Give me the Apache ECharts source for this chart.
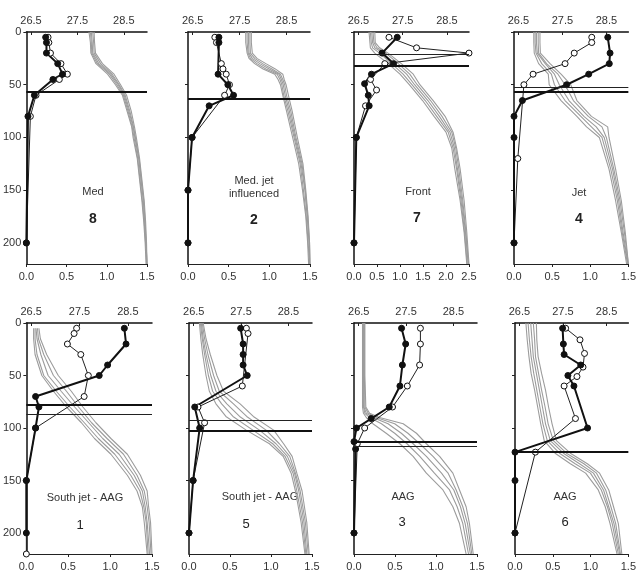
<!DOCTYPE html>
<html>
<head>
<meta charset="utf-8">
<script src="https://cdn.jsdelivr.net/npm/echarts@6/dist/echarts.min.js"></script>
<style>
html, body { margin: 0; padding: 0; background: #fff; }
#chart { width: 639px; height: 585px; }
</style>
</head>
<body>
<div id="chart"></div>
<script>
// top axis (density) ticks, bottom axis ticks, depth ticks
const densityTicks = [26.5, 27.5, 28.5];
const depthTicks = [0, 50, 100, 150, 200];

// panel 1 - Med 8
const depthP1 = [0, 10, 20, 30, 40, 50, 60, 75, 90, 100, 120, 140, 160, 180, 200, 220];
const grayP1 = [
  [27.75, 27.78, 27.79, 27.90, 28.15, 28.32, 28.47, 28.57, 28.67, 28.70, 28.79, 28.84, 28.89, 28.93, 28.96, 28.98],
  [27.78, 27.80, 27.81, 27.93, 28.19, 28.35, 28.49, 28.59, 28.68, 28.72, 28.80, 28.85, 28.90, 28.94, 28.97, 28.99],
  [27.80, 27.82, 27.83, 27.96, 28.22, 28.38, 28.51, 28.61, 28.70, 28.74, 28.82, 28.87, 28.92, 28.95, 28.98, 29.0],
  [27.83, 27.85, 27.86, 28.00, 28.25, 28.40, 28.53, 28.63, 28.71, 28.75, 28.83, 28.88, 28.93, 28.96, 28.98, 29.0],
  [27.86, 27.87, 27.89, 28.04, 28.29, 28.43, 28.56, 28.66, 28.73, 28.77, 28.84, 28.89, 28.94, 28.97, 28.99, 29.0]
];
const blackP1 = [[0.24, 5], [0.25, 10], [0.25, 20], [0.39, 30], [0.45, 40], [0.33, 45], [0.10, 60], [0.02, 80], [0, 200]];
const whiteP1 = [[0.27, 5], [0.28, 10], [0.30, 20], [0.43, 30], [0.51, 40], [0.41, 45], [0.12, 60], [0.05, 80], [0, 200]];
const thickP1 = [57];
const thinP1 = [];

// panel 2 - Med. jet influenced 2
const depthP2 = [0, 10, 20, 25, 30, 35, 40, 45, 50, 60, 75, 100, 125, 150, 175, 200, 220];
const grayP2 = [
  [27.63, 27.63, 27.66, 27.70, 27.82, 28.00, 28.25, 28.32, 28.37, 28.42, 28.50, 28.63, 28.76, 28.84, 28.91, 28.95, 28.97],
  [27.66, 27.66, 27.68, 27.73, 27.87, 28.06, 28.30, 28.36, 28.40, 28.44, 28.53, 28.66, 28.79, 28.86, 28.92, 28.96, 28.99],
  [27.69, 27.69, 27.70, 27.77, 27.93, 28.13, 28.34, 28.39, 28.43, 28.47, 28.56, 28.68, 28.81, 28.89, 28.94, 28.98, 28.99],
  [27.72, 27.72, 27.73, 27.82, 27.99, 28.19, 28.37, 28.42, 28.46, 28.50, 28.59, 28.70, 28.83, 28.90, 28.95, 28.99, 29.0],
  [27.75, 27.75, 27.77, 27.87, 28.06, 28.26, 28.42, 28.45, 28.49, 28.54, 28.62, 28.73, 28.85, 28.91, 28.96, 28.99, 29.0]
];
const blackP2 = [[0.38, 5], [0.38, 10], [0.37, 40], [0.49, 50], [0.56, 60], [0.26, 70], [0.05, 100], [0, 150], [0, 200]];
const whiteP2 = [[0.33, 5], [0.35, 10], [0.41, 30], [0.43, 35], [0.47, 40], [0.51, 50], [0.45, 60], [0.05, 100], [0, 150], [0, 200]];
const thickP2 = [63];
const thinP2 = [];

// panel 3 - Front 7
const depthP3 = [0, 10, 15, 20, 30, 40, 50, 65, 80, 95, 110, 130, 160, 190, 220];
const grayP3 = [
  [26.74, 26.76, 26.77, 26.87, 27.17, 27.44, 27.65, 27.95, 28.21, 28.48, 28.61, 28.68, 28.80, 28.89, 28.95],
  [26.77, 26.79, 26.82, 26.98, 27.25, 27.51, 27.71, 28.01, 28.27, 28.53, 28.64, 28.72, 28.82, 28.90, 28.96],
  [26.80, 26.82, 26.87, 27.06, 27.32, 27.59, 27.77, 28.07, 28.33, 28.57, 28.67, 28.74, 28.84, 28.92, 28.98],
  [26.83, 26.85, 26.92, 27.12, 27.40, 27.66, 27.83, 28.13, 28.39, 28.61, 28.70, 28.77, 28.86, 28.93, 28.99],
  [26.87, 26.88, 26.98, 27.17, 27.47, 27.74, 27.89, 28.19, 28.46, 28.64, 28.72, 28.80, 28.89, 28.95, 29.0]
];
const blackP3 = [[0.94, 5], [0.61, 20], [0.86, 30], [0.38, 40], [0.23, 49], [0.31, 60], [0.33, 70], [0.05, 100], [0, 200]];
const whiteP3 = [[0.76, 5], [1.36, 15], [2.5, 20], [0.67, 30], [0.36, 45], [0.49, 55], [0.25, 70], [0.05, 100], [0, 200]];
const thickP3 = [32];
const thinP3 = [21];

// panel 4 - Jet 4
const depthP4 = [0, 10, 20, 30, 40, 50, 65, 80, 90, 100, 130, 160, 190, 220];
const grayP4 = [
  [26.85, 26.85, 26.86, 26.96, 27.18, 27.20, 27.47, 27.83, 28.05, 28.34, 28.56, 28.71, 28.84, 28.96],
  [26.88, 26.88, 26.90, 27.03, 27.25, 27.32, 27.56, 27.92, 28.16, 28.40, 28.60, 28.75, 28.86, 28.98],
  [26.91, 26.91, 26.93, 27.11, 27.32, 27.43, 27.65, 27.99, 28.27, 28.45, 28.64, 28.78, 28.88, 28.99],
  [26.95, 26.95, 26.96, 27.14, 27.40, 27.56, 27.75, 28.09, 28.40, 28.50, 28.67, 28.81, 28.91, 29.0],
  [26.99, 26.99, 27.00, 27.22, 27.47, 27.69, 27.83, 28.16, 28.53, 28.56, 28.71, 28.84, 28.93, 29.0]
];
const blackP4 = [[1.23, 5], [1.26, 20], [1.25, 30], [0.98, 40], [0.69, 50], [0.11, 65], [0, 80], [0, 100], [0, 200]];
const whiteP4 = [[1.02, 5], [1.02, 10], [0.79, 20], [0.67, 30], [0.25, 40], [0.13, 50], [0.05, 120], [0, 200]];
const thickP4 = [57];
const thinP4 = [52];

// panel 5 - South jet - AAG 1
const depthP5 = [5, 15, 30, 50, 65, 80, 95, 110, 125, 145, 160, 175, 190, 220];
const grayP5 = [
  [26.55, 26.55, 26.58, 26.72, 26.96, 27.23, 27.54, 27.81, 28.15, 28.49, 28.69, 28.80, 28.84, 28.90],
  [26.58, 26.58, 26.62, 26.76, 27.02, 27.30, 27.60, 27.89, 28.23, 28.56, 28.75, 28.83, 28.88, 28.92],
  [26.60, 26.62, 26.70, 26.85, 27.12, 27.40, 27.69, 27.98, 28.32, 28.63, 28.80, 28.86, 28.90, 28.95],
  [26.63, 26.65, 26.76, 26.96, 27.23, 27.48, 27.75, 28.07, 28.41, 28.69, 28.84, 28.90, 28.94, 28.98],
  [26.66, 26.69, 26.82, 27.06, 27.33, 27.57, 27.84, 28.15, 28.49, 28.76, 28.90, 28.93, 28.97, 29.0]
];
const blackP5 = [[1.17, 5], [1.19, 20], [0.97, 40], [0.87, 50], [0.11, 70], [0.15, 80], [0.11, 100], [0, 150], [0, 200]];
const whiteP5 = [[0.60, 5], [0.57, 10], [0.49, 20], [0.65, 30], [0.74, 50], [0.69, 70], [0.11, 100], [0, 150], [0, 220]];
const thickP5 = [78];
const thinP5 = [87];

// panel 6 - South jet - AAG 5
const depthP6 = [0, 15, 30, 50, 65, 77, 89, 102, 115, 127, 143, 160, 190, 220];
const grayP6 = [
  [26.62, 26.65, 26.69, 26.76, 26.83, 26.97, 27.18, 27.61, 28.10, 28.39, 28.56, 28.65, 28.77, 28.85],
  [26.64, 26.68, 26.73, 26.81, 26.90, 27.09, 27.33, 27.75, 28.17, 28.43, 28.60, 28.68, 28.80, 28.87],
  [26.66, 26.70, 26.76, 26.86, 26.97, 27.20, 27.47, 27.89, 28.24, 28.48, 28.63, 28.72, 28.83, 28.89],
  [26.68, 26.73, 26.80, 26.92, 27.04, 27.34, 27.62, 28.03, 28.31, 28.53, 28.65, 28.75, 28.86, 28.92],
  [26.70, 26.76, 26.85, 26.99, 27.13, 27.48, 27.76, 28.19, 28.40, 28.58, 28.68, 28.79, 28.89, 28.94]
];
const blackP6 = [[0.63, 5], [0.66, 20], [0.66, 30], [0.66, 40], [0.71, 50], [0.07, 80], [0.13, 100], [0.05, 150], [0, 200]];
const whiteP6 = [[0.70, 5], [0.72, 10], [0.65, 60], [0.11, 80], [0.19, 95], [0.05, 150], [0, 200]];
const thickP6 = [103];
const thinP6 = [93];

// panel 7 - AAG 3
const depthP7 = [0, 50, 80, 86, 90, 96, 105, 115, 127, 143, 159, 175, 191, 220];
const grayP7 = [
  [26.58, 26.58, 26.58, 26.60, 26.66, 26.80, 27.08, 27.37, 27.65, 27.93, 28.28, 28.49, 28.63, 28.77],
  [26.59, 26.59, 26.60, 26.63, 26.73, 26.98, 27.26, 27.52, 27.79, 28.10, 28.42, 28.58, 28.70, 28.82],
  [26.60, 26.60, 26.61, 26.66, 26.80, 27.12, 27.40, 27.65, 27.93, 28.25, 28.51, 28.65, 28.75, 28.86],
  [26.62, 26.62, 26.63, 26.70, 26.87, 27.26, 27.54, 27.79, 28.07, 28.39, 28.56, 28.70, 28.80, 28.89],
  [26.63, 26.63, 26.65, 26.73, 26.94, 27.44, 27.72, 27.93, 28.21, 28.49, 28.63, 28.77, 28.84, 28.92]
];
const blackP7 = [[0.58, 5], [0.63, 20], [0.59, 40], [0.56, 60], [0.43, 80], [0.21, 91], [0.03, 100], [0, 113], [0.02, 120], [0, 200]];
const whiteP7 = [[0.81, 5], [0.81, 20], [0.80, 40], [0.65, 60], [0.47, 80], [0.13, 100], [0.04, 115], [0, 200]];
const thickP7 = [113];
const thinP7 = [117];

// panel 8 - AAG 6
const depthP8 = [0, 16, 32, 48, 64, 80, 96, 112, 124, 134, 143, 159, 175, 191, 220];
const grayP8 = [
  [26.65, 26.68, 26.72, 26.77, 26.85, 26.92, 26.99, 27.07, 27.32, 27.67, 28.02, 28.31, 28.47, 28.58, 28.74],
  [26.70, 26.73, 26.77, 26.83, 26.90, 26.97, 27.04, 27.14, 27.42, 27.78, 28.13, 28.38, 28.52, 28.63, 28.77],
  [26.76, 26.79, 26.82, 26.89, 26.96, 27.03, 27.10, 27.21, 27.51, 27.88, 28.20, 28.43, 28.55, 28.67, 28.80],
  [26.82, 26.85, 26.87, 26.94, 27.01, 27.09, 27.16, 27.28, 27.58, 27.98, 28.27, 28.48, 28.60, 28.71, 28.82],
  [26.89, 26.90, 26.93, 27.01, 27.10, 27.17, 27.25, 27.35, 27.67, 28.06, 28.34, 28.55, 28.66, 28.77, 28.85]
];
const blackP8 = [[0.63, 5], [0.64, 20], [0.65, 30], [0.87, 40], [0.70, 50], [0.78, 60], [0.96, 100], [0, 123], [0, 150], [0, 200]];
const whiteP8 = [[0.67, 5], [0.86, 16], [0.92, 29], [0.90, 42], [0.82, 51], [0.65, 60], [0.80, 91], [0.27, 123], [0, 200]];
const thickP8 = [123];
const thinP8 = [];

const panelNames = ['Med', 'Med. jet\ninfluenced', 'Front', 'Jet', 'South jet - AAG', 'South jet - AAG', 'AAG', 'AAG'];
const panelNumbers = ['8', '2', '7', '4', '1', '5', '3', '6'];
const bottomMax = [1.5, 1.5, 2.5, 1.5, 1.5, 1.5, 1.5, 1.5];

const panels = [
  { depth: depthP1, gray: grayP1, black: blackP1, white: whiteP1, thick: thickP1, thin: thinP1 },
  { depth: depthP2, gray: grayP2, black: blackP2, white: whiteP2, thick: thickP2, thin: thinP2 },
  { depth: depthP3, gray: grayP3, black: blackP3, white: whiteP3, thick: thickP3, thin: thinP3 },
  { depth: depthP4, gray: grayP4, black: blackP4, white: whiteP4, thick: thickP4, thin: thinP4 },
  { depth: depthP5, gray: grayP5, black: blackP5, white: whiteP5, thick: thickP5, thin: thinP5 },
  { depth: depthP6, gray: grayP6, black: blackP6, white: whiteP6, thick: thickP6, thin: thinP6 },
  { depth: depthP7, gray: grayP7, black: blackP7, white: whiteP7, thick: thickP7, thin: thinP7 },
  { depth: depthP8, gray: grayP8, black: blackP8, white: whiteP8, thick: thickP8, thin: thinP8 }
];

// layout of the panels: [left, top, width, height]
const boxes = [
  [25, 32, 122, 232], [188, 32, 122, 232], [354, 32, 115, 232], [514, 32, 119, 232],
  [24, 323, 128, 231], [189, 323, 123, 231], [354, 323, 123, 231], [515, 323, 123, 231]
];
// label positions (name centre, number centre)
const textPos = [
  [93, 192, 93, 219], [254, 187, 254, 220], [418, 192, 417, 218], [579, 193, 579, 219],
  [85, 498, 80, 525], [260, 497, 246, 524], [403, 497, 402, 522], [565, 497, 565, 522]
];

const font = '"Liberation Sans", Arial, sans-serif';
const tickColor = '#333';

const grid = [], xAxis = [], yAxis = [], series = [], graphic = [];

panels.forEach(function (p, i) {
  const b = boxes[i];
  grid.push({ left: b[0], top: b[1], width: b[2], height: b[3] });
  // bottom value axis
  xAxis.push({
    type: 'value', gridIndex: i, position: 'bottom', min: 0, max: bottomMax[i], interval: 0.5,
    axisLine: { show: true, onZero: false, lineStyle: { color: '#222', width: 1 } },
    axisTick: { show: true, length: 3, lineStyle: { color: '#222' } },
    axisLabel: { fontSize: 11, fontFamily: font, color: tickColor, margin: 7,
      formatter: function (v) { return v.toFixed(1); } },
    splitLine: { show: false }
  });
  // top density axis
  xAxis.push({
    type: 'value', gridIndex: i, position: 'top', min: 26.4, max: 29.0,
    axisLine: { show: true, onZero: false, lineStyle: { color: '#111', width: 1.5 } },
    axisTick: { show: true, inside: true, length: 3, customValues: densityTicks, lineStyle: { color: '#222' } },
    axisLabel: { fontSize: 11, fontFamily: font, color: tickColor, margin: 6, customValues: densityTicks,
      formatter: function (v) { return v.toFixed(1); } },
    splitLine: { show: false }
  });
  yAxis.push({
    type: 'value', gridIndex: i, inverse: true, min: 0, max: 220,
    axisLine: { show: true, onZero: false, lineStyle: { color: '#111', width: 1.5 } },
    axisTick: { show: true, length: 3, customValues: depthTicks, lineStyle: { color: '#222' } },
    axisLabel: { show: i === 0 || i === 4, fontSize: 11, fontFamily: font, color: tickColor, margin: 5,
      customValues: depthTicks },
    splitLine: { show: false }
  });

  p.gray.forEach(function (prof) {
    series.push({
      type: 'line', xAxisIndex: 2 * i + 1, yAxisIndex: i, silent: true,
      showSymbol: false, symbol: 'none',
      lineStyle: { color: '#9c9c9c', width: 1.1 },
      data: prof.map(function (d, k) { return [d, p.depth[k]]; })
    });
  });

  const lines = p.thick.map(function (d) { return { yAxis: d, lineStyle: { width: 2, color: '#111' } }; })
    .concat(p.thin.map(function (d) { return { yAxis: d, lineStyle: { width: 1, color: '#222' } }; }));

  series.push({
    type: 'line', xAxisIndex: 2 * i, yAxisIndex: i, silent: true, clip: false,
    symbol: 'circle', symbolSize: 6,
    itemStyle: { color: '#fff', borderColor: '#111', borderWidth: 1 },
    lineStyle: { color: '#222', width: 1 },
    data: p.white
  });
  series.push({
    type: 'line', xAxisIndex: 2 * i, yAxisIndex: i, silent: true, clip: false,
    symbol: 'circle', symbolSize: 6,
    itemStyle: { color: '#111', borderColor: '#111', borderWidth: 1 },
    lineStyle: { color: '#111', width: 2 },
    data: p.black,
    markLine: { silent: true, symbol: 'none', label: { show: false }, animation: false,
      lineStyle: { type: 'solid' }, data: lines }
  });

  const t = textPos[i];
  graphic.push({
    type: 'text', x: t[0], y: t[1],
    style: { text: panelNames[i], font: '11px ' + font, fill: '#333', align: 'center', verticalAlign: 'middle', lineHeight: 13 }
  });
  graphic.push({
    type: 'text', x: t[2], y: t[3],
    style: { text: panelNumbers[i], font: (i < 4 ? 'bold 14px ' : '13px ') + font, fill: '#222', align: 'center', verticalAlign: 'middle' }
  });
});

const chart = echarts.init(document.getElementById('chart'), null, { renderer: 'canvas' });
chart.setOption({
  animation: false,
  backgroundColor: '#fff',
  grid: grid,
  xAxis: xAxis,
  yAxis: yAxis,
  series: series,
  graphic: graphic
});
</script>
</body>
</html>
